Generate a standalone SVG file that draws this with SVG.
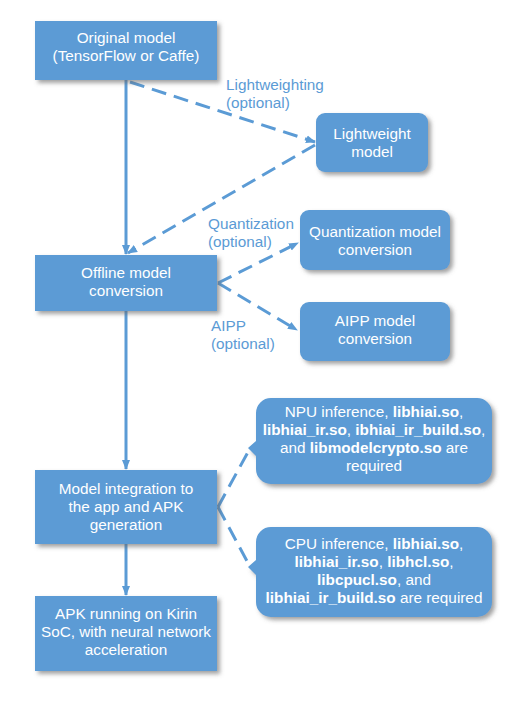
<svg xmlns="http://www.w3.org/2000/svg" width="518" height="715" viewBox="0 0 518 715">
<style>
.box{fill:#5b9bd5;filter:url(#sh)}
.t{font-family:"Liberation Sans",Arial,sans-serif;font-size:15.3px;fill:#ffffff;text-anchor:middle}
.b{font-weight:bold}
.lbl{font-family:"Liberation Sans",Arial,sans-serif;font-size:15.3px;fill:#5b9bd5}
.ln{stroke:#5b9bd5;stroke-width:3;fill:none}
.d{stroke-dasharray:15 8}
</style>
<defs>
<filter id="sh" x="-10%" y="-10%" width="130%" height="140%">
<feDropShadow dx="3" dy="3" stdDeviation="2" flood-color="#666" flood-opacity="0.6"/>
</filter>
<marker id="ah" viewBox="0 0 10 10" refX="9" refY="5" markerWidth="10" markerHeight="10" markerUnits="userSpaceOnUse" orient="auto">
<path d="M0,1 L10,5 L0,9 Z" fill="#5b9bd5"/>
</marker>
</defs>
<rect width="518" height="715" fill="#ffffff"/>
<g id="connectors">
<line class="ln" x1="126" y1="80" x2="126" y2="254" marker-end="url(#ah)"/>
<line class="ln" x1="126" y1="311" x2="126" y2="469" marker-end="url(#ah)"/>
<line class="ln" x1="126" y1="544" x2="126" y2="595" marker-end="url(#ah)"/>
<line class="ln d" x1="130" y1="82" x2="315" y2="142" marker-end="url(#ah)"/>
<line class="ln d" x1="315" y1="145" x2="128" y2="253" marker-end="url(#ah)"/>
<line class="ln d" x1="218" y1="283" x2="298" y2="243" marker-end="url(#ah)"/>
<line class="ln d" x1="218" y1="283" x2="297" y2="330" marker-end="url(#ah)"/>
<line class="ln d" x1="218" y1="507" x2="248" y2="452"/>
<line class="ln d" x1="218" y1="507" x2="248" y2="563"/>
</g>
<g id="labels">
<text class="lbl" x="226" y="90">Lightweighting</text>
<text class="lbl" x="226" y="108">(optional)</text>
<text class="lbl" x="208" y="229">Quantization</text>
<text class="lbl" x="208" y="247">(optional)</text>
<text class="lbl" x="211" y="331">AIPP</text>
<text class="lbl" x="211" y="349">(optional)</text>
</g>
<g id="original">
<rect class="box" x="35" y="21" width="182" height="59"/>
<text class="t" x="126" y="43">Original model</text>
<text class="t" x="126" y="61">(TensorFlow or Caffe)</text>
</g>
<g id="lightweight">
<rect class="box" x="316" y="113" width="112" height="59" rx="9"/>
<text class="t" x="372" y="139">Lightweight</text>
<text class="t" x="372" y="157">model</text>
</g>
<g id="offline">
<rect class="box" x="35" y="255" width="182" height="56"/>
<text class="t" x="126" y="278">Offline model</text>
<text class="t" x="126" y="296">conversion</text>
</g>
<g id="quant">
<rect class="box" x="300" y="210" width="150" height="60" rx="9"/>
<text class="t" x="375" y="237">Quantization model</text>
<text class="t" x="375" y="255">conversion</text>
</g>
<g id="aipp">
<rect class="box" x="300" y="302" width="150" height="59" rx="9"/>
<text class="t" x="375" y="326">AIPP model</text>
<text class="t" x="375" y="344">conversion</text>
</g>
<g id="integration">
<rect class="box" x="35" y="470" width="182" height="74"/>
<text class="t" x="126" y="494">Model integration to</text>
<text class="t" x="126" y="512">the app and APK</text>
<text class="t" x="126" y="530">generation</text>
</g>
<g id="apk">
<rect class="box" x="35" y="596" width="182" height="75"/>
<text class="t" x="126" y="619">APK running on Kirin</text>
<text class="t" x="126" y="637">SoC, with neural network</text>
<text class="t" x="126" y="655">acceleration</text>
</g>
<g id="npu">
<path class="box" d="M271,398 H477 A15,15 0 0 1 492,413 V469 A15,15 0 0 1 477,484 H271 A15,15 0 0 1 256,469 V456 L248,448 L256,441 V413 A15,15 0 0 1 271,398 Z"/>
<text class="t" x="374" y="417">NPU inference, <tspan class="b">libhiai.so</tspan>,</text>
<text class="t" x="374" y="435"><tspan class="b">libhiai_ir.so</tspan>, <tspan class="b">ibhiai_ir_build.so</tspan>,</text>
<text class="t" x="374" y="453">and <tspan class="b">libmodelcrypto.so</tspan> are</text>
<text class="t" x="374" y="471">required</text>
</g>
<g id="cpu">
<path class="box" d="M271,527 H477 A15,15 0 0 1 492,542 V602 A15,15 0 0 1 477,617 H271 A15,15 0 0 1 256,602 V575 L248,567 L256,560 V542 A15,15 0 0 1 271,527 Z"/>
<text class="t" x="374" y="549">CPU inference, <tspan class="b">libhiai.so</tspan>,</text>
<text class="t" x="374" y="567"><tspan class="b">libhiai_ir.so</tspan>, <tspan class="b">libhcl.so</tspan>,</text>
<text class="t" x="374" y="585"><tspan class="b">libcpucl.so</tspan>, and</text>
<text class="t" x="374" y="603"><tspan class="b">libhiai_ir_build.so</tspan> are required</text>
</g>
</svg>
